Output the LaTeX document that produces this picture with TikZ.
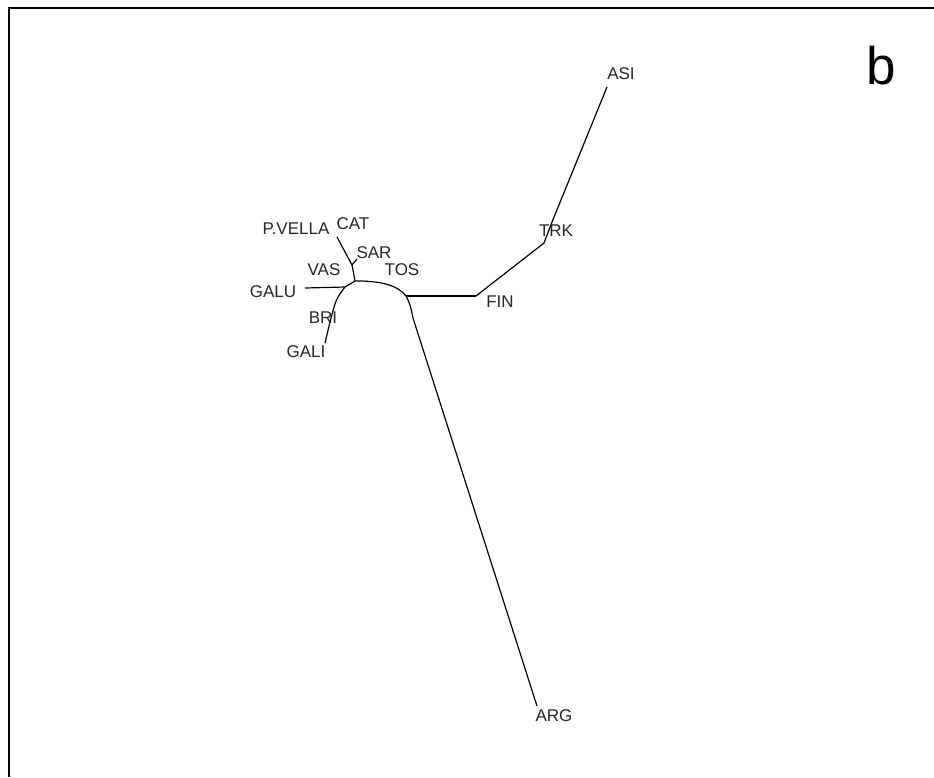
\documentclass[tikz,border=0pt]{standalone}
\usepackage{fontspec}
\setmainfont{Liberation Sans}
\begin{document}
\begin{tikzpicture}[x=1pt,y=-1pt,
  lbl/.style={inner sep=0pt,font=\fontsize{17}{17}\selectfont,text=black!85},
  br/.style={line width=1.2pt,line join=round}]
\useasboundingbox (0,0) rectangle (934,777);
% frame
\coordinate (ftr) at (934,8);
\coordinate (ftl) at (9,8);
\coordinate (fbl) at (9,777);
\draw[line width=2pt] (ftr) -- (ftl) -- (fbl);
% tree coordinates
\coordinate (pvl) at (337,237);
\coordinate (sar) at (357,259);
\coordinate (j1) at (352,265);
\coordinate (j2) at (355,281);
\coordinate (j4) at (345,287);
\coordinate (galu) at (305,288);
\coordinate (gali) at (325,343);
\coordinate (j3) at (406,296);
\coordinate (fin) at (476,296);
\coordinate (trk) at (544,243);
\coordinate (bend) at (552,222);
\coordinate (asi) at (607,87);
\coordinate (arg) at (537,706);
% branches
\draw[br] (pvl) -- (j1);
\draw[br] (sar) -- (j1);
\draw[br] (j1) -- (j2);
\draw[br] (j2) -- (362,281) .. controls (385,282) and (398,286) .. (j3);
\draw[br] (j2) -- (j4);
\draw[br] (j4) -- (galu);
\draw[br] (j4) .. controls (336,299) .. (330,322) -- (gali);
\draw[br] (j3) -- (fin);
\draw[br] (fin) -- (trk) -- (bend) -- (asi);
\draw[br] (j3) .. controls (410,304) .. (413,318) -- (arg);
% labels
\node[lbl] (tASI) at (621,74) {ASI};
\node[lbl] (tTRK) at (556,231) {TRK};
\node[lbl] (tFIN) at (500,302) {FIN};
\node[lbl] (tTOS) at (402,270) {TOS};
\node[lbl] (tSAR) at (374,253) {SAR};
\node[lbl] (tCAT) at (353,224) {CAT};
\node[lbl] (tPV) at (296,229) {P.VELLA};
\node[lbl] (tVAS) at (324,270) {VAS};
\node[lbl] (tGALU) at (273,292) {GALU};
\node[lbl] (tBRI) at (323,318) {BRI};
\node[lbl] (tGALI) at (306,352) {GALI};
\node[lbl] (tARG) at (554,716) {ARG};
\node[inner sep=0pt,font=\fontsize{53}{53}\selectfont] (tb) at (881,66) {b};
\end{tikzpicture}
\end{document}
